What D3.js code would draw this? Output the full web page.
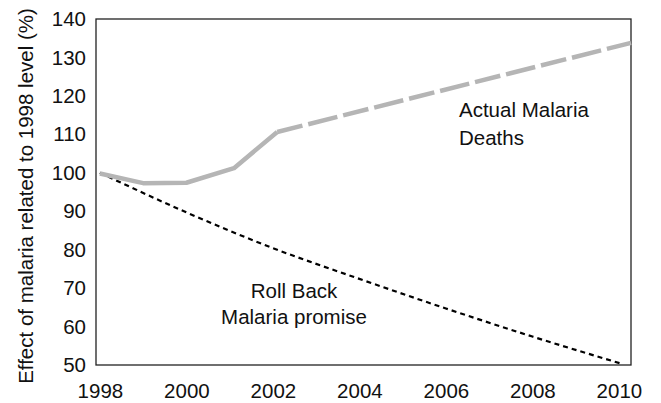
<!DOCTYPE html>
<html>
<head>
<meta charset="utf-8">
<script src="https://cdn.jsdelivr.net/npm/d3@7"></script>
<style>
  body { margin: 0; background: #fff; }
  svg text { font-family: "Liberation Sans", Arial, sans-serif; fill: #111; }
</style>
</head>
<body>
<div id="chart"></div>
<script>
// values
var yearTicks = [1998, 2000, 2002, 2004, 2006, 2008, 2010];
var valueTicks = [50, 60, 70, 80, 90, 100, 110, 120, 130, 140];

// actual deaths, solid part then projected (dashed) part
var actualYears = [1998, 1999, 2000, 2001.1, 2002.1];
var actualValues = [99.8, 97.3, 97.4, 101.2, 110.6];
var projectedYears = [2002.1, 2010.28];
var projectedValues = [110.6, 133.8];

// roll back malaria promise
var promiseYears = [1998, 2000, 2002, 2004, 2006, 2008, 2010.1];
var promiseValues = [100, 89.7, 80.4, 72.4, 64.7, 57.4, 50.2];

var fontSize = "20.5px";
var width = 661, height = 403;
var margin = {top: 19, right: 30, bottom: 38, left: 96};
var innerWidth = width - margin.left - margin.right,
    innerHeight = height - margin.top - margin.bottom;

var svg = d3.select("#chart").append("svg")
    .attr("width", width)
    .attr("height", height);

var chart = svg.append("g")
    .attr("transform", "translate(" + margin.left + "," + margin.top + ")");

var xScale = d3.scaleLinear()
    .domain([1997.91, 2010.28])
    .range([0, innerWidth]);

var yScale = d3.scaleLinear()
    .domain([50, 140])
    .range([innerHeight, 0]);

function toPoints(xs, ys) {
  return xs.map(function(x, i) { return {x: x, y: ys[i]}; });
}

var line = d3.line()
    .x(function(d) { return xScale(d.x); })
    .y(function(d) { return yScale(d.y); });

// axes: labels only, no tick marks
var xAxis = chart.append("g")
    .attr("transform", "translate(0," + innerHeight + ")")
    .call(d3.axisBottom(xScale).tickValues(yearTicks).tickFormat(d3.format("d")).tickSize(0).tickPadding(18));
var yAxis = chart.append("g")
    .call(d3.axisLeft(yScale).tickValues(valueTicks).tickSize(0).tickPadding(10));

[xAxis, yAxis].forEach(function(a) {
  a.select(".domain").remove();
  a.selectAll("text").style("font-size", fontSize).attr("fill", "#111")
    .style("font-family", "'Liberation Sans', Arial, sans-serif");
});

// frame round the plot
chart.append("rect")
    .attr("x", 0).attr("y", 0)
    .attr("width", innerWidth).attr("height", innerHeight)
    .attr("fill", "none")
    .attr("stroke", "#222")
    .attr("stroke-width", 1.3);

// promise line (short black dashes)
chart.append("path")
    .datum(toPoints(promiseYears, promiseValues))
    .attr("fill", "none")
    .attr("stroke", "#000")
    .attr("stroke-width", 2.2)
    .attr("stroke-dasharray", "5,4")
    .attr("d", line.curve(d3.curveMonotoneX));

line.curve(d3.curveLinear);

// actual deaths
chart.append("path")
    .datum(toPoints(actualYears, actualValues))
    .attr("fill", "none")
    .attr("stroke", "#b5b5b5")
    .attr("stroke-width", 4.5)
    .attr("stroke-linejoin", "round")
    .attr("d", line);

chart.append("path")
    .datum(toPoints(projectedYears, projectedValues))
    .attr("fill", "none")
    .attr("stroke", "#b5b5b5")
    .attr("stroke-width", 4.5)
    .attr("stroke-dasharray", "26,6,30,6")
    .attr("d", line);

// annotations
var ann1 = svg.append("text")
    .attr("x", 459).attr("y", 117)
    .style("font-size", fontSize);
ann1.append("tspan").attr("x", 459).text("Actual Malaria");
ann1.append("tspan").attr("x", 459).attr("dy", 28).text("Deaths");

var ann2 = svg.append("text")
    .attr("x", 294).attr("y", 298)
    .attr("text-anchor", "middle")
    .style("font-size", fontSize);
ann2.append("tspan").attr("x", 294).text("Roll Back");
ann2.append("tspan").attr("x", 294).attr("dy", 26).text("Malaria promise");

// y axis title
svg.append("text")
    .attr("transform", "translate(33,196) rotate(-90)")
    .attr("text-anchor", "middle")
    .style("font-size", fontSize)
    .text("Effect of malaria related to 1998 level (%)");
</script>
</body>
</html>
